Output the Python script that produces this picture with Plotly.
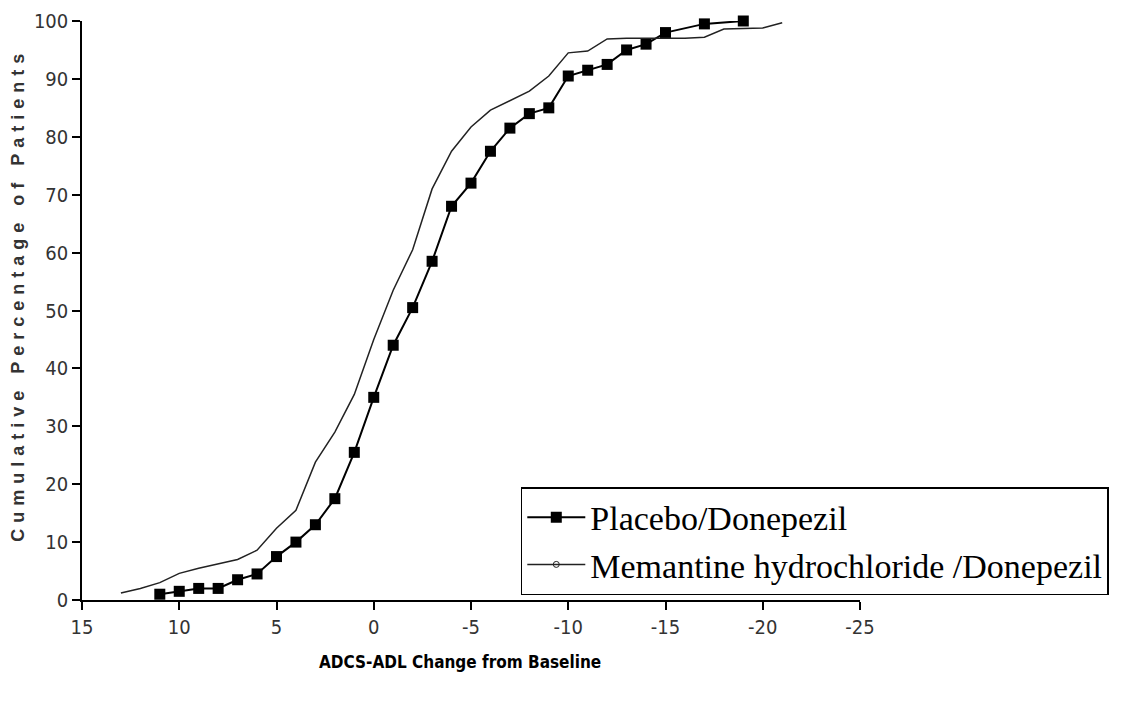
import plotly.graph_objects as go

# Placebo/Donepezil
placebo_x = [11, 10, 9, 8, 7, 6, 5, 4, 3, 2, 1, 0, -1, -2, -3, -4, -5, -6, -7, -8, -9,
             -10, -11, -12, -13, -14, -15, -17, -19]
placebo_y = [1, 1.5, 2, 2, 3.5, 4.5, 7.5, 10, 13, 17.5, 25.5, 35, 44, 50.5, 58.5, 68, 72,
             77.5, 81.5, 84, 85, 90.5, 91.5, 92.5, 95, 96, 98, 99.5, 100]

# Memantine hydrochloride/Donepezil
mem_x = [13, 12, 11, 10, 9, 8, 7, 6, 5, 4, 3, 2, 1, 0, -1, -2, -3, -4, -5, -6, -7, -8, -9,
         -10, -11, -12, -13, -14, -15, -16, -17, -18, -19, -20, -21]
mem_y = [1.2, 2, 3, 4.6, 5.5, 6.3, 7.0, 8.6, 12.4, 15.5, 23.8, 29, 35.5, 45, 53.5, 60.5,
         71, 77.5, 81.7, 84.6, 86.2, 87.9, 90.5, 94.5, 94.8, 96.9, 97, 97, 97, 97, 97.2,
         98.6, 98.7, 98.8, 99.7]

x_ticks = [15, 10, 5, 0, -5, -10, -15, -20, -25]
y_ticks = [0, 10, 20, 30, 40, 50, 60, 70, 80, 90, 100]

x_title = "ADCS-ADL Change from Baseline"
y_title = "Cumulative Percentage of Patients"

fig = go.Figure()
fig.add_trace(go.Scatter(
    x=placebo_x, y=placebo_y, mode="lines+markers", name="Placebo/Donepezil",
    line=dict(color="black", width=2),
    marker=dict(symbol="square", size=11, color="black"),
    cliponaxis=False,
))
fig.add_trace(go.Scatter(
    x=mem_x, y=mem_y, mode="lines", showlegend=False,
    line=dict(color="#222222", width=1.5), cliponaxis=False,
))
fig.add_trace(go.Scatter(
    x=[None], y=[None], mode="lines+markers", name="Memantine hydrochloride /Donepezil",
    line=dict(color="#222222", width=1.5),
    marker=dict(symbol="circle-open", size=6, color="#222222"),
))

tick_font = dict(family="Liberation Sans Narrow, DejaVu Sans Condensed, Liberation Sans",
                 size=20, color="#333333")

fig.update_layout(
    width=1124, height=709,
    margin=dict(l=74, r=272, t=13, b=117),
    paper_bgcolor="white", plot_bgcolor="white",
    showlegend=True,
    legend=dict(
        x=0.564, y=0.195, xanchor="left", yanchor="top",
        bordercolor="black", borderwidth=1.5, bgcolor="white",
        font=dict(family="Liberation Serif, Times New Roman, serif", size=34, color="black"),
        tracegroupgap=0, itemwidth=58,
    ),
    xaxis=dict(
        range=[15, -25], tickvals=x_ticks, ticktext=[str(v) for v in x_ticks],
        showgrid=False, zeroline=False, showline=True, linecolor="black", linewidth=1.5,
        ticks="outside", ticklen=8, tickcolor="black", tickwidth=1.5,
        tickfont=tick_font, automargin=False,
    ),
    yaxis=dict(
        range=[0, 100], tickvals=y_ticks,
        showgrid=False, zeroline=False, showline=True, linecolor="black", linewidth=1.5,
        ticks="outside", ticklen=8, tickcolor="black", tickwidth=1.5,
        tickfont=tick_font, automargin=False,
    ),
    annotations=[
        dict(text="<b>" + x_title + "</b>", xref="paper", yref="paper",
             x=(452 - 74) / 778, y=-0.107, xanchor="center", yanchor="middle",
             showarrow=False,
             font=dict(family="Liberation Sans Narrow, DejaVu Sans Condensed, Liberation Sans",
                       size=17, color="black")),
        dict(text='<span style="letter-spacing:6px"><b>' + y_title + "</b></span>",
             xref="paper", yref="paper", x=(10 - 74) / 778, y=0.527,
             xanchor="center", yanchor="middle", textangle=-90, showarrow=False,
             font=dict(family="Liberation Sans, Arial, sans-serif", size=18, color="#333333")),
    ],
)

fig.write_html("out.html")
